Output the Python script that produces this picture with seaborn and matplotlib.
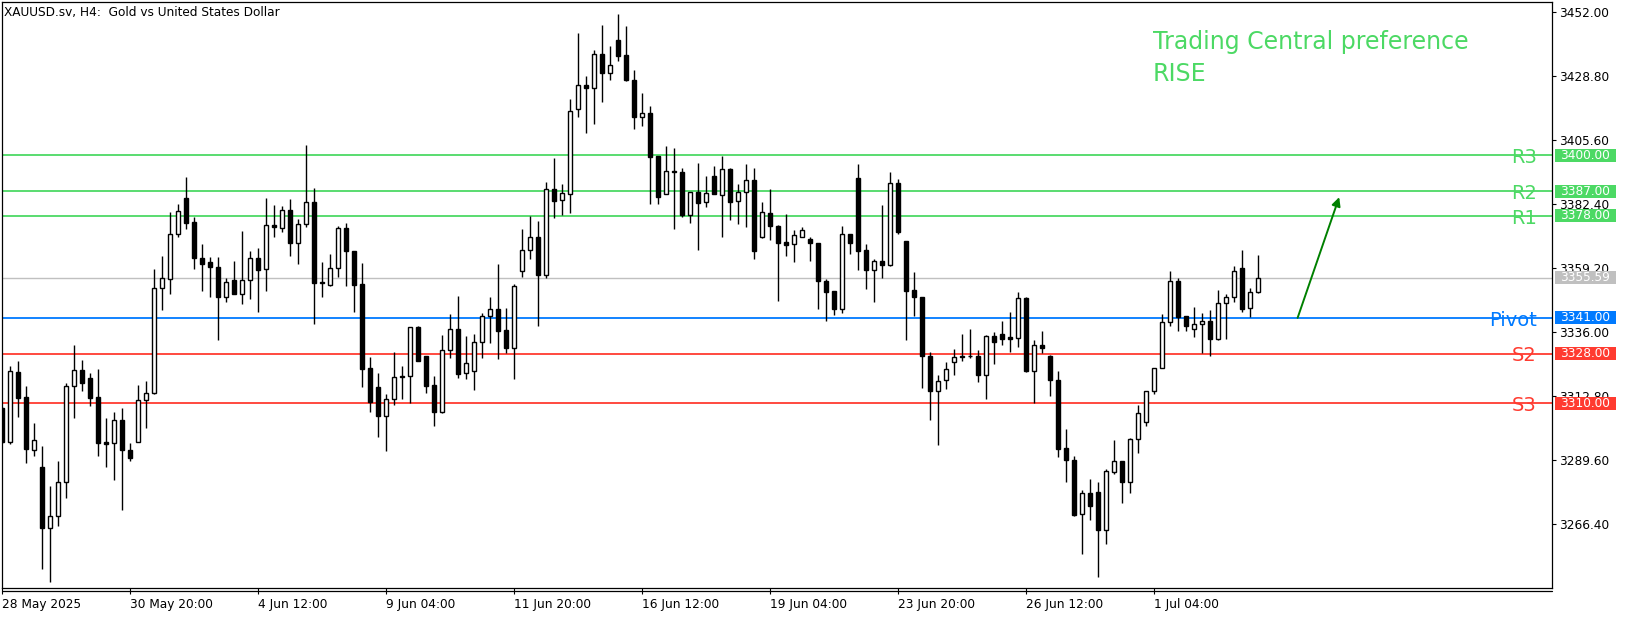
import numpy as np
import pandas as pd
import matplotlib
matplotlib.use('Agg')
import matplotlib.pyplot as plt
import matplotlib.transforms as mtransforms
from matplotlib.patches import Rectangle
import seaborn as sns

# H4 candles, 28 May 04:00 onwards
opens = [3308.2, 3296.1, 3321.3, 3312.3, 3293.0, 3286.9, 3264.6, 3269.0, 3281.3, 3316.2,
         3322.1, 3319.2, 3312.3, 3296.0, 3295.5, 3303.9, 3293.0, 3296.1, 3311.1, 3313.7,
         3351.8, 3355.0, 3371.4, 3384.4, 3375.7, 3362.8, 3361.3, 3359.5, 3348.4, 3354.7,
         3349.8, 3354.7, 3362.8, 3358.7, 3374.6, 3373.5, 3380.1, 3368.3, 3375.0, 3383.1,
         3354.1, 3352.9, 3359.0, 3373.6, 3365.3, 3353.3, 3322.9, 3315.8, 3305.3, 3311.5,
         3319.5, 3319.8, 3337.7, 3327.2, 3316.7, 3307.0, 3329.3, 3336.9, 3320.9, 3321.6,
         3332.2, 3341.6, 3344.1, 3336.6, 3329.9, 3357.9, 3365.6, 3370.3, 3356.4, 3387.7,
         3383.7, 3385.9, 3416.7, 3425.5, 3424.4, 3436.7, 3429.8, 3441.9, 3436.3, 3427.4,
         3413.8, 3415.3, 3399.6, 3386.1, 3394.2, 3394.0, 3378.4, 3386.7, 3382.9, 3392.5,
         3385.5, 3395.0, 3383.4, 3386.6, 3391.0, 3370.2, 3379.0, 3374.4, 3368.6, 3367.7,
         3370.5, 3369.7, 3368.1, 3354.4, 3350.8, 3344.1, 3371.4, 3391.7, 3365.7, 3358.3,
         3361.7, 3360.1, 3390.0, 3369.0, 3351.2, 3348.6, 3327.2, 3314.6, 3318.4, 3324.9,
         3326.7, 3327.0, 3327.2, 3320.4, 3334.3, 3335.2, 3334.0, 3333.6, 3348.3, 3321.9,
         3331.1, 3327.2, 3318.5, 3293.7, 3289.5, 3269.7, 3277.4, 3277.7, 3264.2, 3285.2,
         3289.0, 3281.6, 3297.0, 3303.1, 3314.3, 3322.7, 3339.4, 3354.3, 3341.6, 3336.9,
         3338.7, 3339.8, 3333.3, 3346.3, 3348.5, 3359.0, 3344.5, 3350.3]
highs = [3308.8, 3323.6, 3325.4, 3316.3, 3302.9, 3294.5, 3280.0, 3289.1, 3317.4, 3331.2,
         3325.8, 3321.0, 3322.5, 3304.8, 3306.8, 3308.3, 3295.7, 3316.6, 3318.1, 3358.8,
         3363.5, 3379.5, 3382.4, 3392.2, 3377.5, 3367.9, 3363.1, 3363.1, 3355.4, 3361.7,
         3372.6, 3365.3, 3366.2, 3384.6, 3382.0, 3381.7, 3384.2, 3376.9, 3403.6, 3388.2,
         3361.3, 3364.2, 3374.2, 3375.5, 3365.3, 3361.0, 3326.8, 3321.0, 3313.4, 3328.8,
         3323.6, 3337.6, 3338.1, 3327.2, 3319.9, 3334.8, 3342.5, 3349.0, 3334.5, 3335.3,
         3342.9, 3348.6, 3360.6, 3344.6, 3353.3, 3373.3, 3377.8, 3376.0, 3390.4, 3399.1,
         3389.4, 3420.3, 3444.5, 3428.8, 3438.3, 3447.1, 3439.7, 3451.4, 3446.8, 3430.8,
         3422.7, 3418.0, 3399.6, 3403.4, 3402.6, 3395.3, 3386.7, 3397.3, 3392.5, 3396.1,
         3399.8, 3395.3, 3389.6, 3396.9, 3395.3, 3383.1, 3387.8, 3374.8, 3378.8, 3372.9,
         3373.9, 3370.3, 3368.1, 3355.2, 3350.8, 3374.3, 3371.4, 3396.7, 3367.7, 3362.3,
         3382.0, 3393.8, 3391.5, 3369.0, 3357.6, 3348.6, 3328.8, 3320.3, 3324.9, 3329.6,
         3335.2, 3337.0, 3329.4, 3334.7, 3335.8, 3339.9, 3343.2, 3350.4, 3348.6, 3333.0,
         3336.3, 3327.6, 3321.8, 3300.7, 3290.9, 3278.6, 3282.6, 3281.5, 3286.2, 3296.7,
         3289.0, 3297.4, 3309.5, 3314.4, 3322.7, 3342.3, 3358.1, 3355.4, 3341.8, 3345.0,
         3342.8, 3343.7, 3351.2, 3349.5, 3359.9, 3365.7, 3351.9, 3363.9]
lows = [3295.5, 3295.3, 3305.2, 3288.2, 3291.0, 3249.8, 3245.0, 3265.6, 3275.8, 3304.6,
        3314.6, 3309.2, 3291.0, 3287.0, 3282.3, 3271.2, 3289.2, 3295.9, 3301.2, 3313.4,
        3343.9, 3349.8, 3370.5, 3373.4, 3358.9, 3350.9, 3348.7, 3332.8, 3346.9, 3349.5,
        3346.2, 3347.7, 3343.3, 3350.6, 3370.5, 3372.0, 3363.6, 3360.7, 3373.9, 3338.9,
        3348.4, 3352.4, 3355.8, 3352.4, 3343.3, 3316.1, 3306.8, 3297.9, 3292.8, 3309.3,
        3311.7, 3310.0, 3325.3, 3313.9, 3301.6, 3306.4, 3326.6, 3319.2, 3319.0, 3315.0,
        3326.6, 3331.9, 3325.9, 3328.4, 3319.0, 3356.0, 3362.2, 3338.2, 3355.4, 3377.4,
        3378.5, 3379.2, 3413.7, 3407.9, 3411.2, 3419.2, 3427.2, 3434.2, 3426.9, 3409.4,
        3410.5, 3382.3, 3382.4, 3385.8, 3373.3, 3377.5, 3375.6, 3365.8, 3381.1, 3385.8,
        3370.2, 3376.6, 3375.2, 3373.8, 3362.2, 3369.8, 3369.3, 3347.3, 3363.3, 3361.1,
        3370.4, 3361.8, 3344.4, 3339.9, 3342.0, 3342.7, 3364.2, 3358.3, 3351.6, 3346.6,
        3355.6, 3359.8, 3371.6, 3332.8, 3341.8, 3315.7, 3304.1, 3295.0, 3315.3, 3320.4,
        3325.5, 3326.4, 3317.9, 3311.7, 3324.3, 3331.0, 3328.8, 3330.6, 3321.2, 3310.0,
        3328.4, 3312.8, 3290.7, 3281.6, 3269.0, 3255.5, 3267.8, 3247.1, 3259.1, 3284.3,
        3274.0, 3277.6, 3291.8, 3301.9, 3313.5, 3322.7, 3337.9, 3336.3, 3336.4, 3334.2,
        3328.3, 3327.3, 3332.8, 3333.5, 3346.9, 3343.3, 3341.2, 3350.0]
closes = [3296.1, 3321.6, 3312.1, 3293.3, 3296.6, 3264.6, 3269.0, 3281.3, 3316.2, 3322.1,
          3317.5, 3312.1, 3295.7, 3295.4, 3303.9, 3293.0, 3290.1, 3311.1, 3313.7, 3351.8,
          3355.5, 3371.4, 3379.7, 3375.6, 3362.7, 3360.7, 3359.3, 3348.4, 3353.9, 3349.8,
          3354.7, 3362.8, 3358.5, 3374.6, 3373.9, 3380.1, 3368.3, 3375.0, 3383.1, 3353.8,
          3353.6, 3359.2, 3373.6, 3365.1, 3353.1, 3322.6, 3310.6, 3305.3, 3311.6, 3319.6,
          3319.8, 3337.6, 3325.3, 3316.4, 3307.0, 3329.3, 3336.9, 3320.8, 3324.5, 3332.3,
          3341.6, 3344.1, 3336.4, 3329.9, 3352.6, 3365.6, 3370.3, 3356.4, 3387.7, 3383.4,
          3386.4, 3416.0, 3425.5, 3424.4, 3436.7, 3429.8, 3432.7, 3435.9, 3427.3, 3413.8,
          3415.3, 3399.3, 3384.7, 3394.2, 3393.8, 3378.4, 3386.7, 3382.5, 3386.4, 3385.8,
          3395.0, 3383.2, 3386.7, 3391.0, 3365.1, 3379.5, 3374.2, 3368.3, 3367.6, 3371.0,
          3372.9, 3368.0, 3354.2, 3350.4, 3344.1, 3371.4, 3368.0, 3365.4, 3358.3, 3361.6,
          3360.1, 3390.0, 3372.3, 3350.9, 3348.5, 3327.0, 3314.6, 3318.1, 3322.4, 3326.7,
          3327.0, 3327.2, 3320.4, 3334.3, 3332.4, 3333.5, 3333.5, 3348.1, 3321.9, 3331.1,
          3330.2, 3318.3, 3293.6, 3289.3, 3269.5, 3277.4, 3272.9, 3264.2, 3285.3, 3289.0,
          3281.6, 3297.0, 3306.4, 3314.4, 3322.7, 3339.4, 3354.3, 3341.2, 3337.9, 3338.7,
          3339.8, 3333.3, 3346.3, 3348.5, 3357.9, 3344.4, 3350.3, 3355.4]

x_tick_pos = [0, 16, 32, 48, 64, 80, 96, 112, 128, 144]
x_tick_labels = ['28 May 2025', '30 May 20:00', '4 Jun 12:00', '9 Jun 04:00', '11 Jun 20:00',
                 '16 Jun 12:00', '19 Jun 04:00', '23 Jun 20:00', '26 Jun 12:00', '1 Jul 04:00']
y_ticks = [3452.00, 3428.80, 3405.60, 3382.40, 3359.20, 3336.00, 3312.80, 3289.60, 3266.40]

level_names = ['R3', 'R2', 'R1', 'Pivot', 'S2', 'S3']
level_values = [3400.00, 3387.00, 3378.00, 3341.00, 3328.00, 3310.00]
level_colors = ['#4cd964', '#4cd964', '#4cd964', '#007aff', '#ff3b30', '#ff3b30']
last_price = 3355.59

arrow_start = (161.9, 3341.0)
arrow_end = (167.1, 3384.8)

df = pd.DataFrame({'open': opens, 'high': highs, 'low': lows, 'close': closes})
df['bar'] = np.arange(len(df))
df['bull'] = df['close'] >= df['open']

sns.set_theme(style='white')
plt.rcParams['font.family'] = ['DejaVu Sans']

fig = plt.figure(figsize=(16.3, 6.17), dpi=100)
ax = fig.add_axes([2 / 1630, 29 / 617, 1550 / 1630, 586 / 617])
ax.set_facecolor('white')

# wicks then bodies
ax.vlines(df['bar'], df['low'], df['high'], color='black', lw=1.0, zorder=3)
body_bottom = df[['open', 'close']].min(axis=1)
body_height = (df['close'] - df['open']).abs().clip(lower=0.3)
ax.bar(df['bar'], body_height, bottom=body_bottom, width=0.52,
       color=np.where(df['bull'], 'white', 'black'), edgecolor='black',
       linewidth=1.0, zorder=4)

blend = mtransforms.blended_transform_factory(ax.transAxes, ax.transData)

# price levels
all_vals = level_values + [last_price]
all_cols = level_colors + ['#c0c0c0']
for v, c in zip(all_vals, all_cols):
    ax.axhline(v, color=c, lw=1.3 if c != '#c0c0c0' else 1.0, zorder=2)
    ax.add_patch(Rectangle((1.0017, v - 2.35), 0.0394, 4.7, transform=blend,
                           facecolor=c, edgecolor='none', clip_on=False, zorder=10))
    ax.text(1.0017 + 0.0197, v, f'{v:.2f}', transform=blend, ha='center', va='center',
            color='white', fontsize=8.7, zorder=11, clip_on=False)

for name, v, c in zip(level_names, level_values, level_colors):
    ax.text(0.9903, v - 0.8, name, transform=blend, ha='right', va='center',
            color=c, fontsize=14, zorder=5)

ax.annotate('', xy=arrow_end, xytext=arrow_start,
            arrowprops=dict(arrowstyle='-|>', color='#008000', lw=1.4,
                            mutation_scale=13, shrinkA=0, shrinkB=0), zorder=6)

ax.text(0.7424, 0.9198, 'Trading Central preference', transform=ax.transAxes,
        color='#4cd964', fontsize=17, va='baseline', ha='left')
ax.text(0.7424, 0.8652, 'RISE', transform=ax.transAxes,
        color='#4cd964', fontsize=17, va='baseline', ha='left')

ax.text(0.0015, 0.976, 'XAUUSD.sv, H4:  Gold vs United States Dollar',
        transform=ax.transAxes, fontsize=8.7, va='baseline', ha='left', color='black')

ax.set_xlim(-0.05, 193.7)
ax.set_ylim(3243.0, 3455.6)

ax.yaxis.tick_right()
ax.set_yticks(y_ticks)
ax.set_yticklabels([f'{t:.2f}' for t in y_ticks])
ax.tick_params(axis='y', length=3, width=0.8, pad=2, labelsize=8.7, colors='black',
               direction='out', right=True, left=False)

ax.set_xticks(x_tick_pos)
ax.set_xticklabels(x_tick_labels, ha='left')
ax.tick_params(axis='x', length=4.5, width=0.8, pad=2.5, labelsize=8.7, colors='black',
               direction='out', bottom=True)

for s in ax.spines.values():
    s.set_color('black')
    s.set_linewidth(0.9)
ax.plot([0, 1], [-0.0055, -0.0055], transform=ax.transAxes, color='black',
        lw=0.9, clip_on=False)
ax.grid(False)

fig.savefig('out.png', dpi=100)
